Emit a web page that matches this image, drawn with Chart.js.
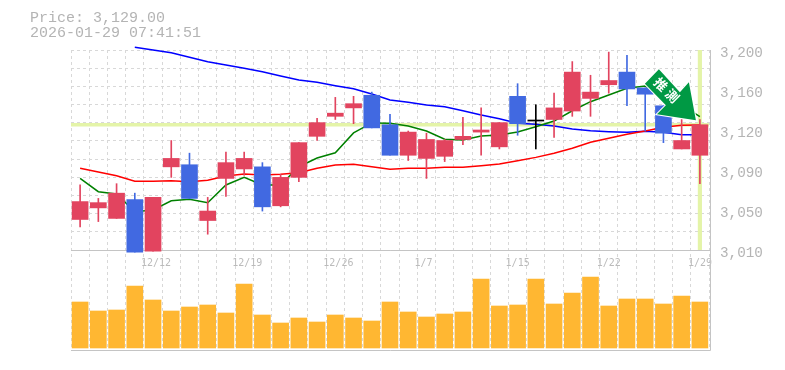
<!DOCTYPE html>
<html lang="ja">
<head>
    <meta charset="UTF-8">
    <title>Price chart</title>
    <style>
        html, body { margin: 0; background: #fff; }
        #wrap { position: relative; width: 785px; height: 370px; }
        #caption { position: absolute; left: 30px; top: 11px; font: 15px/15px "Liberation Mono", monospace; color: #b4b4b4; white-space: pre; }
    </style>
</head>
<body>
    <div id="wrap">
        <canvas id="chart" width="785" height="370"></canvas>
        <div id="caption">Price: 3,129.00
2026-01-29 07:41:51</div>
    </div>

    <script src="https://cdn.jsdelivr.net/npm/chart.js"></script>
    <script>
        const dates = ['12/8','12/9','12/10','12/11','12/12','12/15','12/16','12/17','12/18','12/19','12/22','12/23','12/24','12/25','12/26','12/29','12/30','1/5','1/6','1/7','1/8','1/9','1/13','1/14','1/15','1/16','1/19','1/20','1/21','1/22','1/23','1/26','1/27','1/28','1/29'];
        const shownDates = ['12/12','12/19','12/26','1/7','1/15','1/22','1/29'];

        const opens = [3039,3050,3040,3058,3009,3089,3091,3038,3078,3087,3089,3052,3079,3118,3137,3145,3157,3129,3100,3097,3099,3115,3122,3108,3156,3133.5,3134,3142,3154,3167,3179,3164,3147,3106,3100];
        const closes = [3056,3055,3064,3008,3060,3097,3059,3047,3093,3097,3051,3079,3112,3131,3140,3149,3126,3100,3122,3115,3114,3118,3124,3131,3130,3132.5,3145,3179,3160,3171,3163,3158,3121,3114,3129];
        const highs = [3072,3059,3073,3064,3060,3114,3102,3060,3103,3103,3093,3082,3112,3135,3155,3156,3160,3139,3123,3121,3115,3136,3145,3131,3168,3148,3159,3189,3176,3198,3195,3164,3147,3134,3134];
        const lows = [3032,3037,3040,3008,3009,3079,3059,3025,3061,3081,3047,3051,3075,3114,3134,3130,3126,3100,3095,3078,3094,3110,3100,3106,3119,3106,3117,3137,3137,3159,3147,3123,3112,3106,3073];

        const avgShort = [3078.1,3065.4,3063.2,3046.4,3048,3056.8,3058.2,3054.9,3071.8,3079.1,3071.8,3071.8,3089.1,3097.4,3102.4,3121.2,3130.7,3130.4,3127.8,3123,3115.2,3114.5,3118.3,3119.3,3122.1,3127.1,3132.5,3142.3,3150.9,3157.3,3163.6,3165.8,3156.3,3147.8,3136.6];
        const avgMid = [3087.6,3084.1,3080.6,3075.3,3075.3,3075.8,3074.9,3076.2,3080.3,3082.2,3081.3,3081.9,3083.4,3087.6,3090.8,3091.4,3089.1,3086.7,3087.6,3087.6,3088.6,3088.6,3090.1,3091.7,3094.8,3098,3101.9,3106.6,3112.3,3116.1,3119.9,3123,3126.6,3128.5,3128.8];
        const avgLong = [null,null,null,3202.6,3200,3197.4,3193.1,3188.9,3185.8,3182.6,3179.4,3175.3,3171.5,3169.3,3166.1,3163.2,3158.2,3152.5,3150.3,3147.8,3146.1,3142.3,3138.3,3134.7,3130.4,3129.4,3127.8,3125,3123.3,3122.4,3121.8,3122.8,3121.8,3119.5,3119.5];

        const volumes = [46,37,38,62,48,37,41,43,35,64,33,25,30,26,33,30,27,46,36,31,34,36,69,42,43,69,44,55,71,42,49,49,44,52,46];

        const priceLabels = ['3,200','3,160','3,120','3,090','3,050','3,010'];
        const priceLabelValues = [3200,3162,3124,3086,3048,3010];
        const gridValues = [3200,3182.73,3165.45,3148.18,3130.91,3113.64,3096.36,3079.09,3061.82,3044.55,3027.27,3010];
        const priceMax = 3200, priceMin = 3010;
        const lastPrice = 3129;
        const signalText = ['推', '測'];

        const RED = '#e2445f', BLUE = '#4169e1', FRAME = '#c4c4c4', NOW = '#e4f4a8';

        function candleColor(i) {
            if (Math.abs(opens[i] - closes[i]) <= 1) return '#000';
            return closes[i] > opens[i] ? RED : BLUE;
        }
        const candleColors = dates.map((d, i) => candleColor(i));

        const panelLines = {
            id: 'panelLines',
            beforeDatasetsDraw(chart) {
                const { ctx, chartArea, scales } = chart;
                ctx.save();
                // current price line
                const py = scales.y.getPixelForValue(lastPrice);
                ctx.strokeStyle = NOW;
                ctx.lineWidth = 3.5;
                ctx.beginPath();
                ctx.moveTo(chartArea.left, py);
                ctx.lineTo(chartArea.right, py);
                ctx.stroke();
                // frame
                const midY = Math.round(scales.y.bottom) + 0.5;
                ctx.strokeStyle = FRAME;
                ctx.lineWidth = 1;
                ctx.beginPath();
                ctx.moveTo(chartArea.left, midY);
                ctx.lineTo(chartArea.right + 1.5, midY);
                ctx.moveTo(chartArea.left, chartArea.bottom + 0.5);
                ctx.lineTo(chartArea.right + 1.5, chartArea.bottom + 0.5);
                ctx.moveTo(chartArea.right + 1.5, chartArea.top);
                ctx.lineTo(chartArea.right + 1.5, chartArea.bottom + 0.5);
                ctx.stroke();
                ctx.restore();
            },
            afterDatasetsDraw(chart) {
                // signal arrow, hung off the last candle
                const { ctx, scales } = chart;
                const tx = scales.x.getPixelForValue(dates.length - 1) - 4;
                const ty = scales.y.getPixelForValue(lastPrice) - 4.5;
                const shape = [[-37,-51],[-51,-36.5],[-30,-15],[-39,-6],[0,0],[-7,-38],[-16,-28]];
                ctx.save();
                ctx.beginPath();
                shape.forEach((p, i) => i ? ctx.lineTo(tx + p[0], ty + p[1]) : ctx.moveTo(tx + p[0], ty + p[1]));
                ctx.closePath();
                ctx.lineWidth = 2;
                ctx.strokeStyle = '#fff';
                ctx.fillStyle = '#009944';
                ctx.stroke();
                ctx.fill();
                ctx.fillStyle = '#fff';
                ctx.font = 'bold 13px "Noto Sans CJK JP"';
                ctx.textAlign = 'center';
                ctx.textBaseline = 'middle';
                [[-35,-36],[-23.5,-24.5]].forEach((p, i) => {
                    ctx.save();
                    ctx.translate(tx + p[0], ty + p[1]);
                    ctx.rotate(Math.PI / 4);
                    ctx.fillText(signalText[i], 0, 0);
                    ctx.restore();
                });
                ctx.restore();
            }
        };

        new Chart(document.getElementById('chart').getContext('2d'), {
            type: 'bar',
            plugins: [panelLines],
            data: {
                labels: dates,
                datasets: [
                    { label: 'Open/Close', data: dates.map((d, i) => [opens[i], closes[i]]), backgroundColor: candleColors, barThickness: 16, grouped: false, clip: false, order: 1, yAxisID: 'y' },
                    { label: 'High/Low', data: dates.map((d, i) => [lows[i], highs[i]]), backgroundColor: candleColors, barThickness: 1, grouped: false, clip: false, order: 2, yAxisID: 'y' },
                    { type: 'line', label: 'MA short', data: avgShort, borderColor: '#008000', borderWidth: 1.5, pointRadius: 0, tension: 0, clip: false, order: 3, yAxisID: 'y' },
                    { type: 'line', label: 'MA mid', data: avgMid, borderColor: '#f00', borderWidth: 1.5, pointRadius: 0, tension: 0, clip: false, order: 4, yAxisID: 'y' },
                    { type: 'line', label: 'MA long', data: avgLong, borderColor: '#00f', borderWidth: 1.5, pointRadius: 0, tension: 0, clip: false, order: 5, yAxisID: 'y' },
                    { label: 'Now', data: dates.map((d, i) => i === dates.length - 1 ? [priceMin, priceMax] : null), backgroundColor: NOW, barThickness: 3.5, grouped: false, order: 6, yAxisID: 'y' },
                    { label: 'Volume', data: volumes, backgroundColor: '#ffb732', barThickness: 16, grouped: false, order: 7, yAxisID: 'yv' }
                ]
            },
            options: {
                responsive: false,
                animation: false,
                layout: { padding: { left: 71, top: 50, right: 0, bottom: 20 } },
                plugins: { legend: { display: false }, tooltip: { enabled: false } },
                scales: {
                    x: {
                        position: { yv: 98 },
                        offset: true,
                        grid: { offset: true, color: '#d8d8d8', drawTicks: false },
                        border: { display: false, dash: [3, 3] },
                        ticks: {
                            autoSkip: false, maxRotation: 0, align: 'start', labelOffset: -12, padding: 7,
                            color: '#bbb', font: { family: '"DejaVu Sans Mono"', size: 10 },
                            callback(v, i) { return shownDates.includes(dates[i]) ? dates[i] : ''; }
                        }
                    },
                    y: {
                        position: 'right', stack: 'panes', stackWeight: 2, min: priceMin, max: priceMax,
                        afterFit(s) { s.width = 76; },
                        afterBuildTicks(s) { s.ticks = gridValues.concat(priceLabelValues.slice(1, 5)).map(value => ({ value })); },
                        grid: {
                            color: c => gridValues.includes(c.tick.value) ? '#d8d8d8' : 'transparent',
                            drawTicks: false
                        },
                        border: { display: false, dash: [3, 3] },
                        ticks: {
                            autoSkip: false, padding: 11, labelOffset: 3, color: '#b4b4b4', font: { family: '"Liberation Mono"', size: 14.3 },
                            callback(v) {
                                const k = priceLabelValues.indexOf(v);
                                return k >= 0 ? priceLabels[k] : '';
                            }
                        }
                    },
                    yv: {
                        position: 'right', stack: 'panes', stackWeight: 1, min: -2, max: 98,
                        afterFit(s) { s.width = 76; },
                        grid: { display: false, drawTicks: false },
                        border: { display: false },
                        ticks: { display: false }
                    }
                }
            }
        });
    </script>
</body>
</html>
